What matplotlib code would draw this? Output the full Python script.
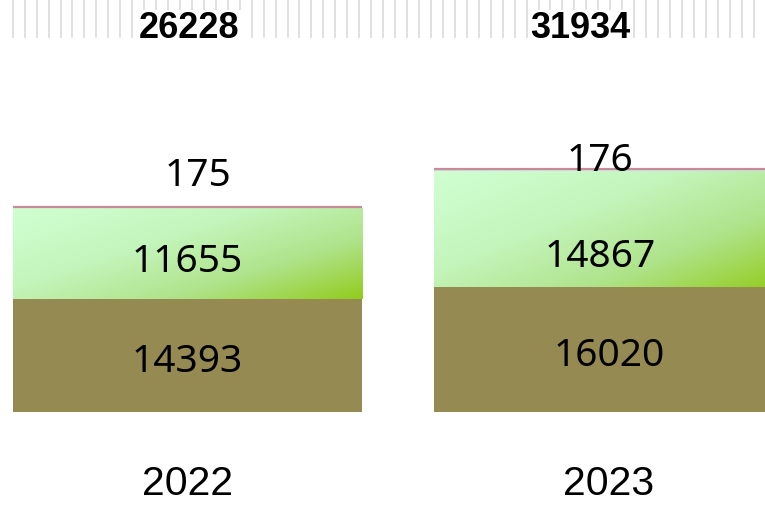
import numpy as np
import matplotlib.pyplot as plt
from matplotlib.colors import LinearSegmentedColormap
from matplotlib.transforms import blended_transform_factory

years = ['2022', '2023']
totals = [26228, 31934]
bottom_vals = [14393, 16020]
middle_vals = [11655, 14867]
top_vals = [175, 176]

x = np.arange(len(years))
width = 0.83

fig = plt.figure(figsize=(7.65, 5.05), dpi=100)
ax = fig.add_axes([0, 0, 1, 1])
ax.set_xlim(-0.4448, 1.370)
ax.set_ylim(-11896, 52699)
ax.axis('off')

brown = '#958A52'
green_cmap = LinearSegmentedColormap.from_list(
    'g', ['#CFFFD0', '#C4F5BC', '#AFE38A', '#92CC1E'])

# bottom segment
ax.bar(x, bottom_vals, width, color=brown, zorder=2)

# middle segment with diagonal gradient
mid = ax.bar(x, middle_vals, width, bottom=bottom_vals, color='none', zorder=3)
gx, gy = np.meshgrid(np.linspace(0, 1, 200), np.linspace(0, 1, 100))
grad = (gx * 0.55 + gy * 0.45) ** 1.15
for rect in mid:
    x0, y0 = rect.get_x(), rect.get_y()
    im = ax.imshow(grad, cmap=green_cmap, aspect='auto', origin='upper',
                   extent=[x0, x0 + rect.get_width(), y0, y0 + rect.get_height()],
                   zorder=3, interpolation='bilinear')
    im.set_clip_path(rect)

# thin top segment
top_bottom = np.array(bottom_vals) + np.array(middle_vals)
ax.bar(x, top_vals, width, bottom=top_bottom, color='#D3DBEA', zorder=4)
ax.hlines(top_bottom + np.array(top_vals), x - width / 2, x + width / 2,
          colors='#C68A98', linewidth=1.6, zorder=5)

num_font = dict(family='Noto Sans', fontsize=28, color='black')
for i in range(len(years)):
    ax.text(x[i], bottom_vals[i] / 2 - 800, f'{bottom_vals[i]}',
            ha='center', va='center', zorder=6, **num_font)
    mid_off = [-1000, -3600][i]
    ax.text(x[i] - 0.02 * i, bottom_vals[i] + middle_vals[i] / 2 + mid_off,
            f'{middle_vals[i]}', ha='center', va='center', zorder=6, **num_font)
    top_off = [4000, 1100][i]
    ax.text(x[i] + 0.025 - 0.047 * i, top_bottom[i] + top_vals[i] + top_off,
            f'{top_vals[i]}', ha='center', va='center', zorder=6, **num_font)
    ax.text(x[i], -9250, years[i], ha='center', va='center',
            family='Liberation Sans', fontsize=29.5, color='black')

# hatched strip across the top
trans = blended_transform_factory(fig.transFigure, ax.transAxes)
for px in np.arange(12.7, 765, 11.95):
    ax.plot([px / 765, px / 765], [1 - 37 / 505, 1], color='#DDDDDD',
            linewidth=1.3, transform=trans, zorder=1, clip_on=False)

tot_x = [x[0] + 0.004, x[1] - 0.069]
for i in range(len(years)):
    ax.text(tot_x[i], 1 - 29 / 505, f'{totals[i]}', transform=blended_transform_factory(ax.transData, ax.transAxes),
            ha='center', va='center', family='Liberation Sans', fontweight='bold',
            fontsize=26, color='black', zorder=6,
            bbox=dict(facecolor='white', edgecolor='none', pad=1))

fig.savefig('out.png', dpi=100)
